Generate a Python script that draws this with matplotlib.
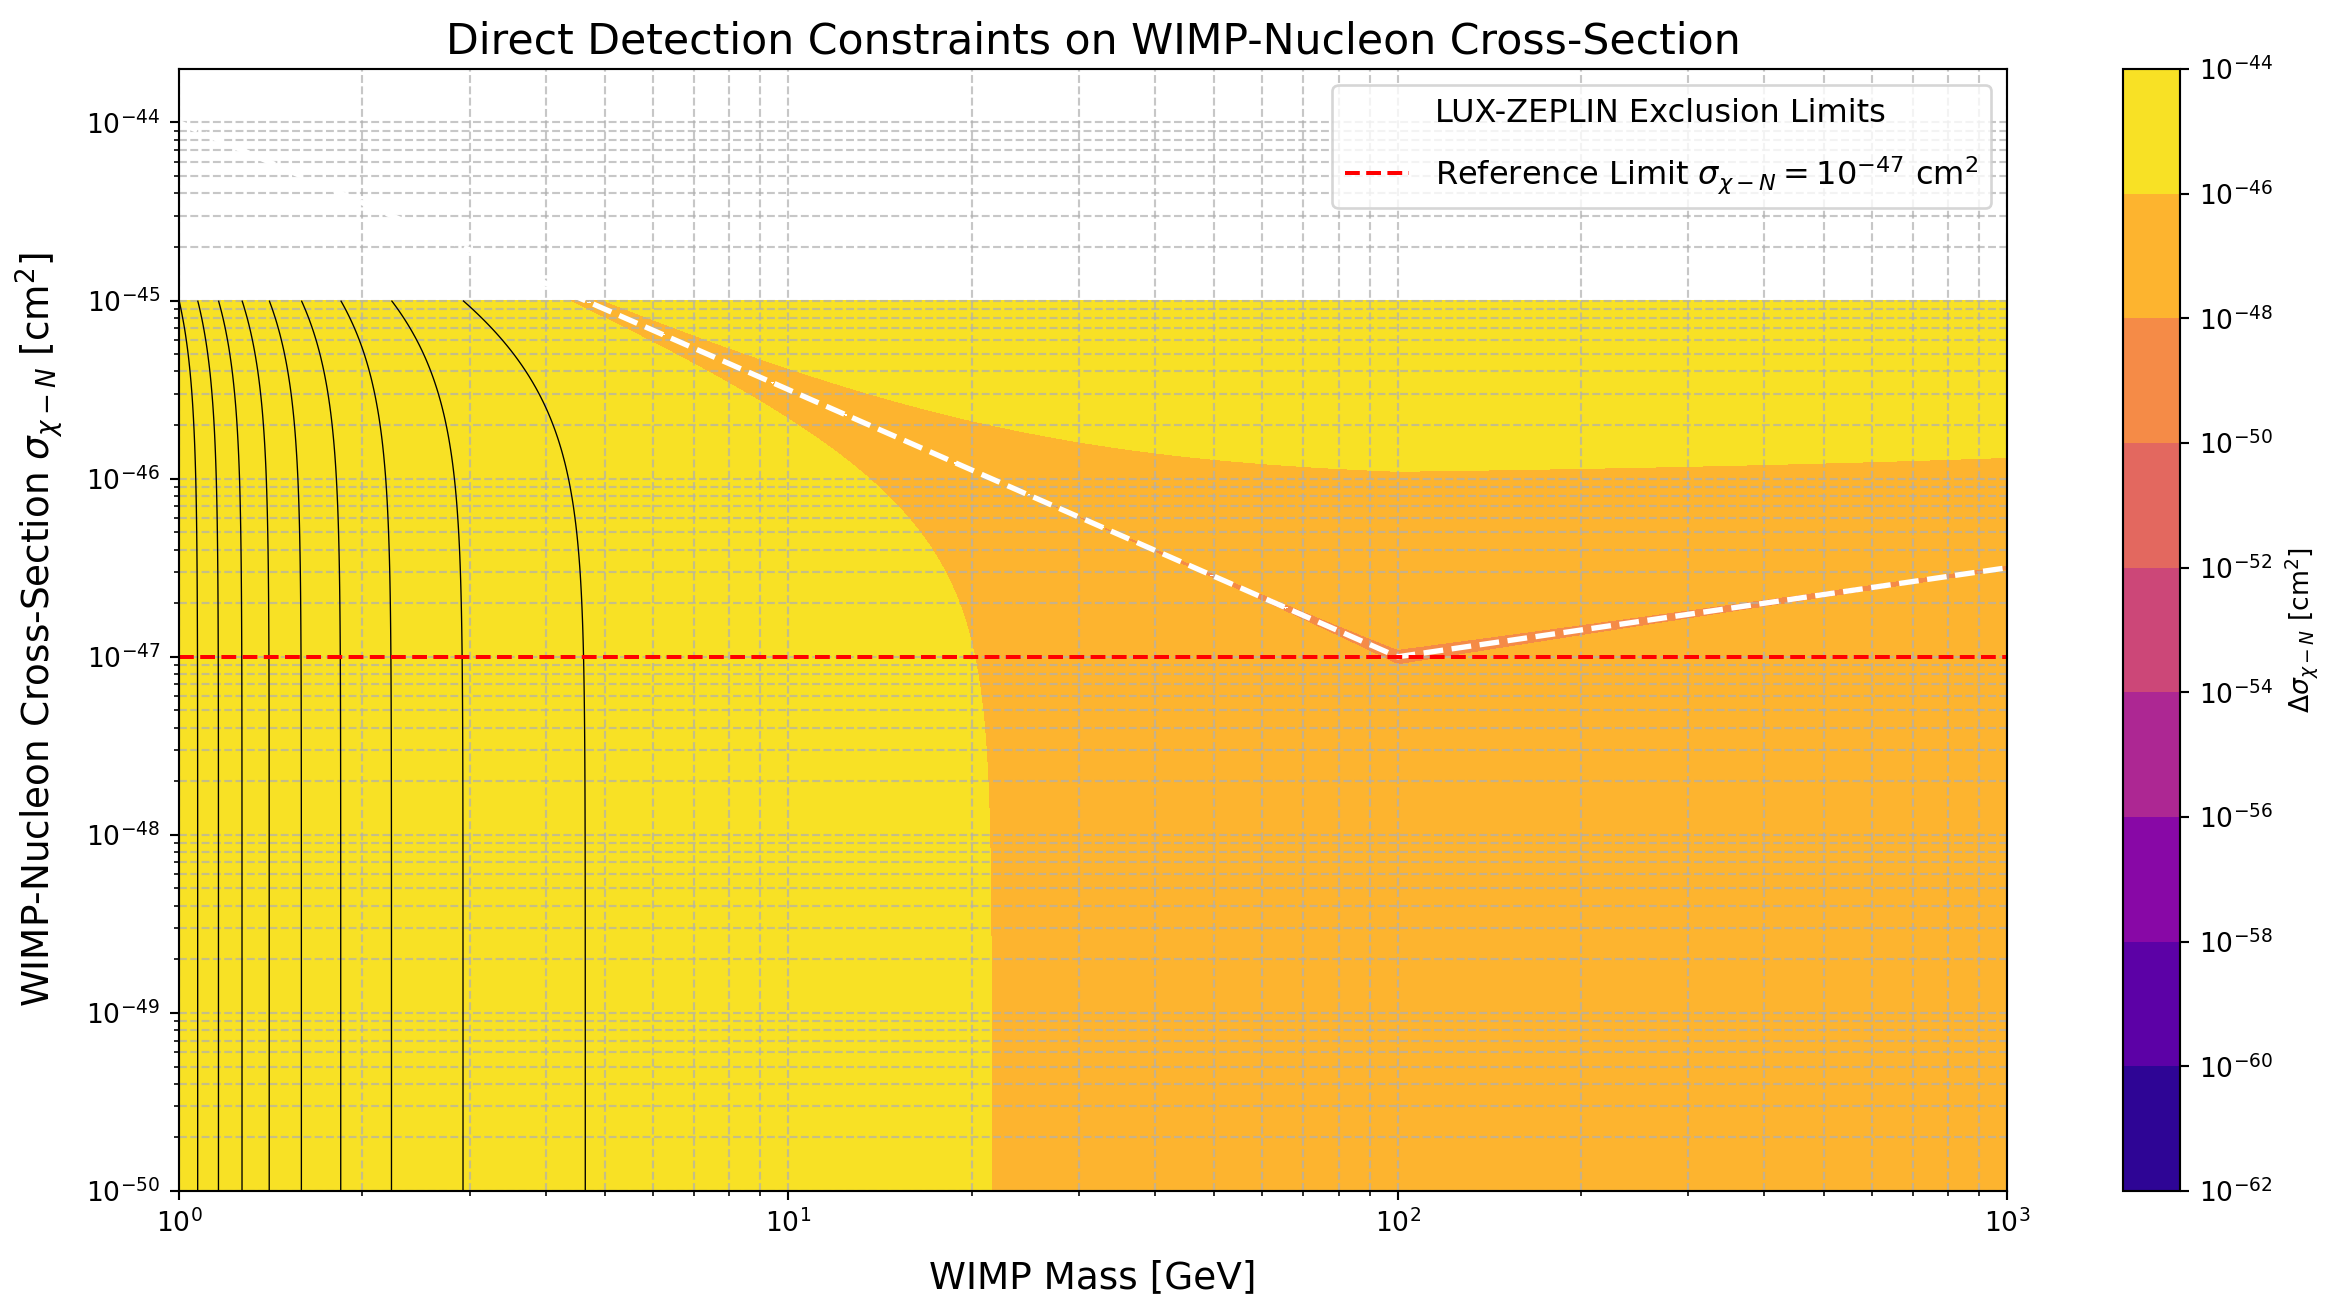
import numpy as np
import matplotlib
matplotlib.use("Agg")
import matplotlib.pyplot as plt
from matplotlib.colors import LogNorm

# LZ exclusion limit (mass in GeV, sigma in cm^2)
lz_mass = [1.0, 100.0, 1000.0]
lz_sigma = [1e-44, 1e-47, 3.16e-47]

# red reference line
ref_sigma = 1e-47

# filled levels (the colorbar) and the thin black contour levels
fill_levels = [1e-62, 1e-60, 1e-58, 1e-56, 1e-54, 1e-52, 1e-50, 1e-48, 1e-46, 1e-44]
line_levels = [1e-45, 2e-45, 3e-45, 4e-45, 5e-45, 6e-45, 7e-45, 8e-45, 9e-45]

# extent of the scanned (mass, sigma) plane
mass_range = [1.0, 1000.0]
sigma_range = [1e-50, 1e-45]

# evaluation grid, log spaced in both directions
m = np.logspace(np.log10(mass_range[0]), np.log10(mass_range[1]), 500)
s = np.logspace(np.log10(sigma_range[0]), np.log10(sigma_range[1]), 500)
M, S = np.meshgrid(m, s)

# distance of every point from the limit curve (straight segments in log-log)
lim = 10 ** np.interp(np.log10(M), np.log10(lz_mass), np.log10(lz_sigma))
delta = np.abs(S - lim)

dpi = 192
fig = plt.figure(figsize=(2341 / dpi, 1308 / dpi), dpi=dpi)
ax = fig.add_axes([0.0765, 0.0894, 0.7808, 0.8578])
cax = fig.add_axes([0.9069, 0.0894, 0.0243, 0.8578])

cf = ax.contourf(M, S, delta, levels=fill_levels, cmap='plasma', norm=LogNorm())
ax.contour(M, S, delta, levels=line_levels, colors='k', linewidths=0.5)

ax.plot(lz_mass, lz_sigma, 'w--', lw=2, label='LUX-ZEPLIN Exclusion Limits')
ax.axhline(ref_sigma, color='r', ls='--', lw=1.5,
           label=r'Reference Limit $\sigma_{\chi-N} = 10^{-47}$ cm$^2$')

ax.set_xscale('log')
ax.set_yscale('log')
ax.grid(True, which='both', ls='--', alpha=0.7)

ax.set_xlabel('WIMP Mass [GeV]', fontsize=14, labelpad=8)
ax.set_ylabel(r'WIMP-Nucleon Cross-Section $\sigma_{\chi-N}$ [cm$^2$]', fontsize=14, labelpad=8)
ax.set_title('Direct Detection Constraints on WIMP-Nucleon Cross-Section', fontsize=16)
ax.legend(loc='upper right', fontsize=12, labelspacing=0.8)

cb = fig.colorbar(cf, cax=cax, ticks=fill_levels)
cb.set_label(r'$\Delta\sigma_{\chi-N}$ [cm$^2$]')

fig.savefig('out.png', dpi=dpi)
